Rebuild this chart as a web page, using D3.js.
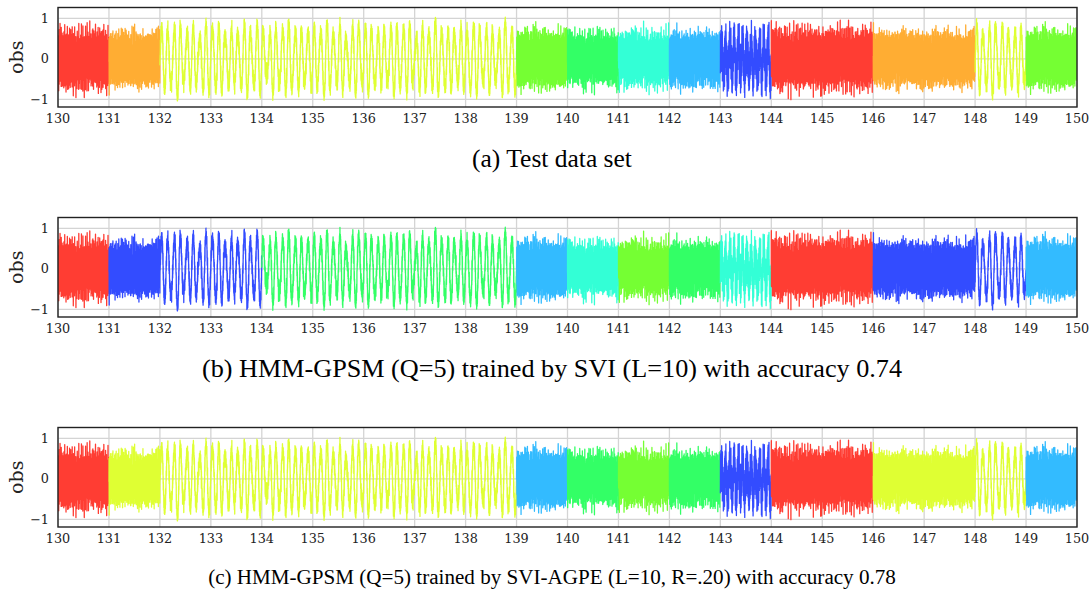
<!DOCTYPE html>
<html>
<head>
<meta charset="utf-8">
<script src="https://cdn.jsdelivr.net/npm/d3@7"></script>
<style>
  html, body { margin: 0; padding: 0; background: #fff; }
  svg { display: block; }
</style>
</head>
<body>
<svg id="chart" width="1092" height="590"></svg>
<script>
// ---------------- data ----------------
const xTicks = [130,131,132,133,134,135,136,137,138,139,140,141,142,143,144,145,146,147,148,149,150];
const yTicks = [-1, 0, 1];
const xDomain = [130, 150];
const yDomain = [-1.19, 1.27];

// state colours (hue cycle)
const stateColors = ["#ff3d33", "#ffad33", "#dfff33", "#75ff33", "#33ff66", "#33ffd6", "#33bbff", "#334cff"];

// true regimes of the observed signal: [start, end, regime]
const trueSegments = [[130,131,0],[131,132,1],[132,139,2],[139,140,3],[140,141,4],[141,142,5],[142,143,6],[143,144,7],[144,146,0],[146,148,1],[148,149,2],[149,150,3]];

// regime look
const regimeOscFreq = [0, 0, 8, 0, 0, 0, 0, 12];           // visible oscillation, cycles per unit (0 = dense)
const regimeOscAmp  = [0, 0, 0.80, 0, 0, 0, 0, 0.45];      // its amplitude
const regimeNoise   = [0.38, 0.35, 0.12, 0.37, 0.33, 0.35, 0.35, 0.30]; // fine texture level
const regimePeak    = [1.30, 1.20, 1.40, 1.20, 1.35, 1.20, 1.20, 1.30]; // soft limit of excursions
const textureFreqs  = [61.3, 97.7, 133.9, 171.1, 209.3, 251.7, 293.1, 347.9];
const texturePhases = [0.3, 1.9, 4.1, 2.7, 5.3, 0.9, 3.7, 1.3];

// inferred segmentations per panel: [start, end, stateIndex]
const panelASegments = [[130,131,0],[131,132,1],[132,139,2],[139,140,3],[140,141,4],[141,142,5],[142,143,6],[143,144,7],[144,146,0],[146,148,1],[148,149,2],[149,150,3]];
const panelBSegments = [[130,131,0],[131,134,7],[134,139,4],[139,140,6],[140,141,5],[141,142,3],[142,143,4],[143,144,5],[144,146,0],[146,149,7],[149,150,6]];
const panelCSegments = [[130,131,0],[131,139,2],[139,140,6],[140,141,4],[141,142,3],[142,143,4],[143,144,7],[144,146,0],[146,149,2],[149,150,6]];

const captions = [
  "(a) Test data set",
  "(b) HMM-GPSM (Q=5) trained by SVI (L=10) with accuracy 0.74",
  "(c) HMM-GPSM (Q=5) trained by SVI-AGPE (L=10, R=.20) with accuracy 0.78"
];
const yLabel = "obs";

// ---------------- signal samples ----------------
const step = 0.0005;
const nSamples = Math.round((xDomain[1] - xDomain[0]) / step);
const samples = [];
for (let i = 0; i <= nSamples; i++) {
  const t = xDomain[0] + i * step;
  let r = trueSegments.find(s => t >= s[0] && t < s[1]);
  if (!r) r = trueSegments[trueSegments.length - 1];
  const g = r[2];
  const u = t - xDomain[0];
  let v = 0;
  if (regimeOscFreq[g] > 0) {
    const f = regimeOscFreq[g];
    const env = 1 + 0.12 * Math.sin(2 * Math.PI * 1.37 * u + 0.5)
                  + 0.09 * Math.sin(2 * Math.PI * 3.11 * u)
                  + 0.08 * Math.sin(2 * Math.PI * 5.93 * u + 1.7);
    v += regimeOscAmp[g] * env * Math.sin(2 * Math.PI * f * u)
       + 0.2 * regimeOscAmp[g] * Math.sin(2 * Math.PI * (1.47 * f) * u + 0.8);
  }
  let n = 0;
  for (let k = 0; k < textureFreqs.length; k++) {
    n += Math.sin(2 * Math.PI * textureFreqs[k] * u + texturePhases[k] + g * (k + 1) * 0.7);
  }
  v += regimeNoise[g] * n / 2;
  const L = regimePeak[g];
  samples.push([t, L * Math.tanh(v / L)]);
}

// ---------------- layout ----------------
const svg = d3.select("#chart");
const left = 58, right = 1077, plotH = 99.5, firstTop = 7.5, panelGap = 210;
const captionSizes = [25.5, 26.2, 21.1];
const captionOffsets = [59.5, 60, 57];
const x = d3.scaleLinear().domain(xDomain).range([left, right]);
const panels = [panelASegments, panelBSegments, panelCSegments];

panels.forEach((segs, pi) => {
  const top = firstTop + pi * panelGap;
  const y = d3.scaleLinear().domain(yDomain).range([top + plotH, top]);
  const g = svg.append("g");

  const clipId = "clip" + pi;
  svg.append("clipPath").attr("id", clipId)
    .append("rect").attr("x", left).attr("y", top).attr("width", right - left).attr("height", plotH);

  // grid
  g.append("g").selectAll("line").data(xTicks).join("line")
    .attr("x1", d => x(d)).attr("x2", d => x(d))
    .attr("y1", top).attr("y2", top + plotH)
    .attr("stroke", "#d4d4d4").attr("stroke-width", 1.3);
  g.append("g").selectAll("line").data(yTicks).join("line")
    .attr("x1", left).attr("x2", right)
    .attr("y1", d => y(d)).attr("y2", d => y(d))
    .attr("stroke", "#d4d4d4").attr("stroke-width", 1.3);

  // data
  const line = d3.line().x(d => x(d[0])).y(d => y(d[1]));
  const dg = g.append("g").attr("clip-path", `url(#${clipId})`);
  segs.forEach(s => {
    const i0 = Math.round((s[0] - xDomain[0]) / step);
    const i1 = Math.round((s[1] - xDomain[0]) / step);
    const pts = samples.slice(i0, i1 + 1);
    dg.append("path").attr("d", line(pts))
      .attr("fill", "none")
      .attr("stroke", stateColors[s[2]])
      .attr("stroke-width", 1.3)
      .attr("stroke-linejoin", "round");
  });

  // frame
  g.append("rect").attr("x", left).attr("y", top).attr("width", right - left).attr("height", plotH)
    .attr("fill", "none").attr("stroke", "#222").attr("stroke-width", 1.4);

  // x tick labels
  g.append("g").selectAll("text").data(xTicks).join("text")
    .attr("x", d => x(d)).attr("y", top + plotH + 15.5)
    .attr("text-anchor", "middle")
    .attr("font-family", "'DejaVu Serif', serif").attr("font-size", 12.8)
    .attr("fill", "#222")
    .text(d => d);

  // y tick labels
  g.append("g").selectAll("text").data(yTicks).join("text")
    .attr("x", left - 9).attr("y", d => y(d) + 4.5)
    .attr("text-anchor", "end")
    .attr("font-family", "'DejaVu Serif', serif").attr("font-size", 12.8)
    .attr("fill", "#222")
    .text(d => d < 0 ? "\u2212" + Math.abs(d) : d);

  // y label
  g.append("text")
    .attr("transform", `translate(${23},${top + plotH / 2}) rotate(-90)`)
    .attr("text-anchor", "middle")
    .attr("font-family", "'DejaVu Serif', serif").attr("font-size", 19)
    .attr("fill", "#222")
    .text(yLabel);

  // caption
  g.append("text")
    .attr("x", 552).attr("y", top + plotH + captionOffsets[pi])
    .attr("text-anchor", "middle")
    .attr("font-family", "'Liberation Serif', 'Times New Roman', serif").attr("font-size", captionSizes[pi])
    .attr("fill", "#000")
    .text(captions[pi]);
});
</script>
</body>
</html>
